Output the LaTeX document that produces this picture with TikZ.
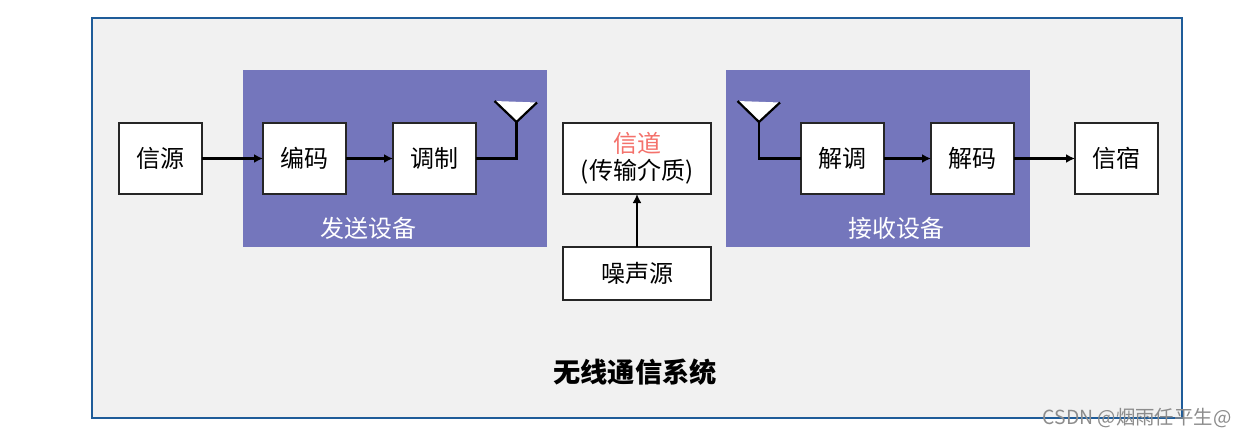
\documentclass[tikz,border=0pt]{standalone}
\usepackage{fontspec}
\setmainfont{Noto Sans CJK SC}
\usetikzlibrary{arrows.meta, positioning}
\definecolor{panel}{RGB}{241,241,241}
\definecolor{frameblue}{RGB}{31,92,153}
\definecolor{device}{RGB}{116,118,188}
\definecolor{channelred}{RGB}{244,113,107}
\definecolor{boxline}{RGB}{38,38,38}
\tikzset{
    blockbox/.style={draw=boxline, line width=1.3pt, fill=white, minimum width=83pt, minimum height=71pt, outer sep=0pt, inner sep=0pt, font=\fontsize{24}{29}\selectfont, align=center},
    widebox/.style={blockbox, minimum width=148pt},
    devicebox/.style={fill=device, minimum width=304pt, minimum height=177pt, outer sep=0pt},
    flow/.style={-{Latex[length=9pt,width=9pt]}, line width=2.2pt},
    wire/.style={line width=2.2pt, line join=miter},
    antenna/.style={line width=2.2pt, line join=miter}
}

\begin{document}
\begin{tikzpicture}[x=1pt,y=-1pt]
    \useasboundingbox (0,0) rectangle (1246,437);

    % Outer frame
    \node[draw=frameblue, line width=1.2pt, fill=panel, minimum width=1090pt, minimum height=400pt, outer sep=0pt] (system) at (637,218) {};

    % Device panels
    \node[devicebox] (sender) at (395,158.5) {};
    \node[devicebox] (receiver) at (878,158.5) {};

    % Sender chain
    \node[blockbox] (source) at (160.5,158.5) {信源};
    \node[blockbox, right=61pt of source] (encoder) {编码};
    \node[blockbox, right=47pt of encoder] (modulator) {调制};

    % Channel
    \node[widebox] (channel) at (637,158.5) {\textcolor{channelred}{信道}\\[-2pt](传输介质)};
    \node[widebox, minimum height=53pt, below=53pt of channel] (noise) {噪声源};

    % Receiver chain
    \node[blockbox] (demodulator) at (842.5,158.5) {解调};
    \node[blockbox, right=47pt of demodulator] (decoder) {解码};
    \node[blockbox, right=61pt of decoder] (sink) {信宿};

    % Antennas
    \coordinate (txtip) at (516.5,122);
    \coordinate (rxtip) at (759,122);
    \fill[white] (494.5,101) -- (537,102.5) -- (txtip) -- cycle;
    \fill[white] (737.5,101) -- (780,102.5) -- (rxtip) -- cycle;
    \draw[antenna] (494.5,101) -- (txtip) -- (537,102.5);
    \draw[antenna] (737.5,101) -- (rxtip) -- (780,102.5);

    % Arrows
    \draw[flow] (source) -- (encoder);
    \draw[flow] (encoder) -- (modulator);
    \draw[wire] (modulator) -| (txtip);
    \draw[wire] (demodulator) -| (rxtip);
    \draw[flow] (demodulator) -- (decoder);
    \draw[flow] (decoder) -- (sink);
    \draw[flow] (noise) -- (channel);

    % Labels
    \node[text=white, font=\fontsize{24}{29}\selectfont] (senderlabel) at (368,228) {发送设备};
    \node[text=white, font=\fontsize{24}{29}\selectfont] (receiverlabel) at (896,228) {接收设备};
    \node[font=\fontsize{27.2}{32}\selectfont\bfseries] (title) at (635,372) {无线通信系统};
    \node[text=black!45, font=\fontsize{19.4}{23}\selectfont] (watermark) at (1137,418) {CSDN @烟雨任平生@};
\end{tikzpicture}
\end{document}
